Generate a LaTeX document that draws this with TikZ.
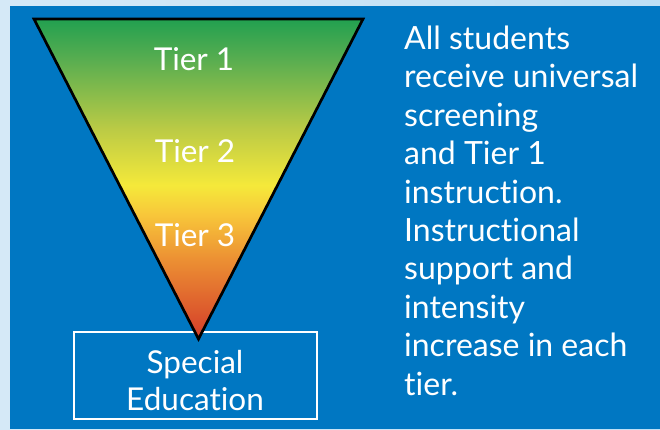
\documentclass[tikz,border=0pt]{standalone}
\usepackage{fontspec}
\setmainfont{Lato}[Ligatures={CommonOff}]
\definecolor{bgblue}{HTML}{0077C2}
\definecolor{stripL}{HTML}{D5E9F7}
\definecolor{stripR}{HTML}{BDDFF5}
\definecolor{tgreen}{HTML}{22A050}
\definecolor{tlgreen}{HTML}{5AAE50}
\definecolor{tolive}{HTML}{BCCB45}
\definecolor{tyellow}{HTML}{F5E93A}
\definecolor{tgold}{HTML}{F8C73A}
\definecolor{torange}{HTML}{EC9033}
\definecolor{tred}{HTML}{D6432A}
\pgfdeclareverticalshading{tiershade}{100bp}{color(0bp)=(tred); color(26bp)=(tred);
  color(37.5bp)=(torange); color(44.5bp)=(tgold); color(49bp)=(tyellow);
  color(57.7bp)=(tolive); color(68.5bp)=(tlgreen); color(75bp)=(tgreen); color(100bp)=(tgreen)}
\tikzset{
  tierlabel/.style={text=white,font=\fontsize{31.5}{37}\selectfont,inner sep=0pt,anchor=base},
  bodytext/.style={text=white,font=\fontsize{32}{38.4}\selectfont,inner sep=0pt,align=left,anchor=base west}
}
\begin{document}
\begin{tikzpicture}[x=1pt,y=1pt]
\useasboundingbox (0,0) rectangle (660,429);
% background
\shade[left color=stripL,right color=stripR] (0,0) rectangle (660,429);
\fill[bgblue] (10,0) rectangle (660,423);
% special education box
\draw[white,line width=2pt] (74,10) rectangle (317,97);
\node[tierlabel] (spec) at (195,56) {Special};
\node[tierlabel] (edu) at (195,19) {Education};
% triangle
\draw[shading=tiershade,line width=2.7pt] (34,410) -- (363,410) -- (198.5,90) -- cycle;
\node[tierlabel] (t1) at (194,358) {Tier 1};
\node[tierlabel] (t2) at (195,267) {Tier 2};
\node[tierlabel] (t3) at (195,183) {Tier 3};
% description
\node[bodytext] (desc) at (404,34) {All students\\receive universal\\screening\\and Tier 1\\instruction.\\Instructional\\support and\\intensity\\increase in each\\tier.};
\end{tikzpicture}
\end{document}
